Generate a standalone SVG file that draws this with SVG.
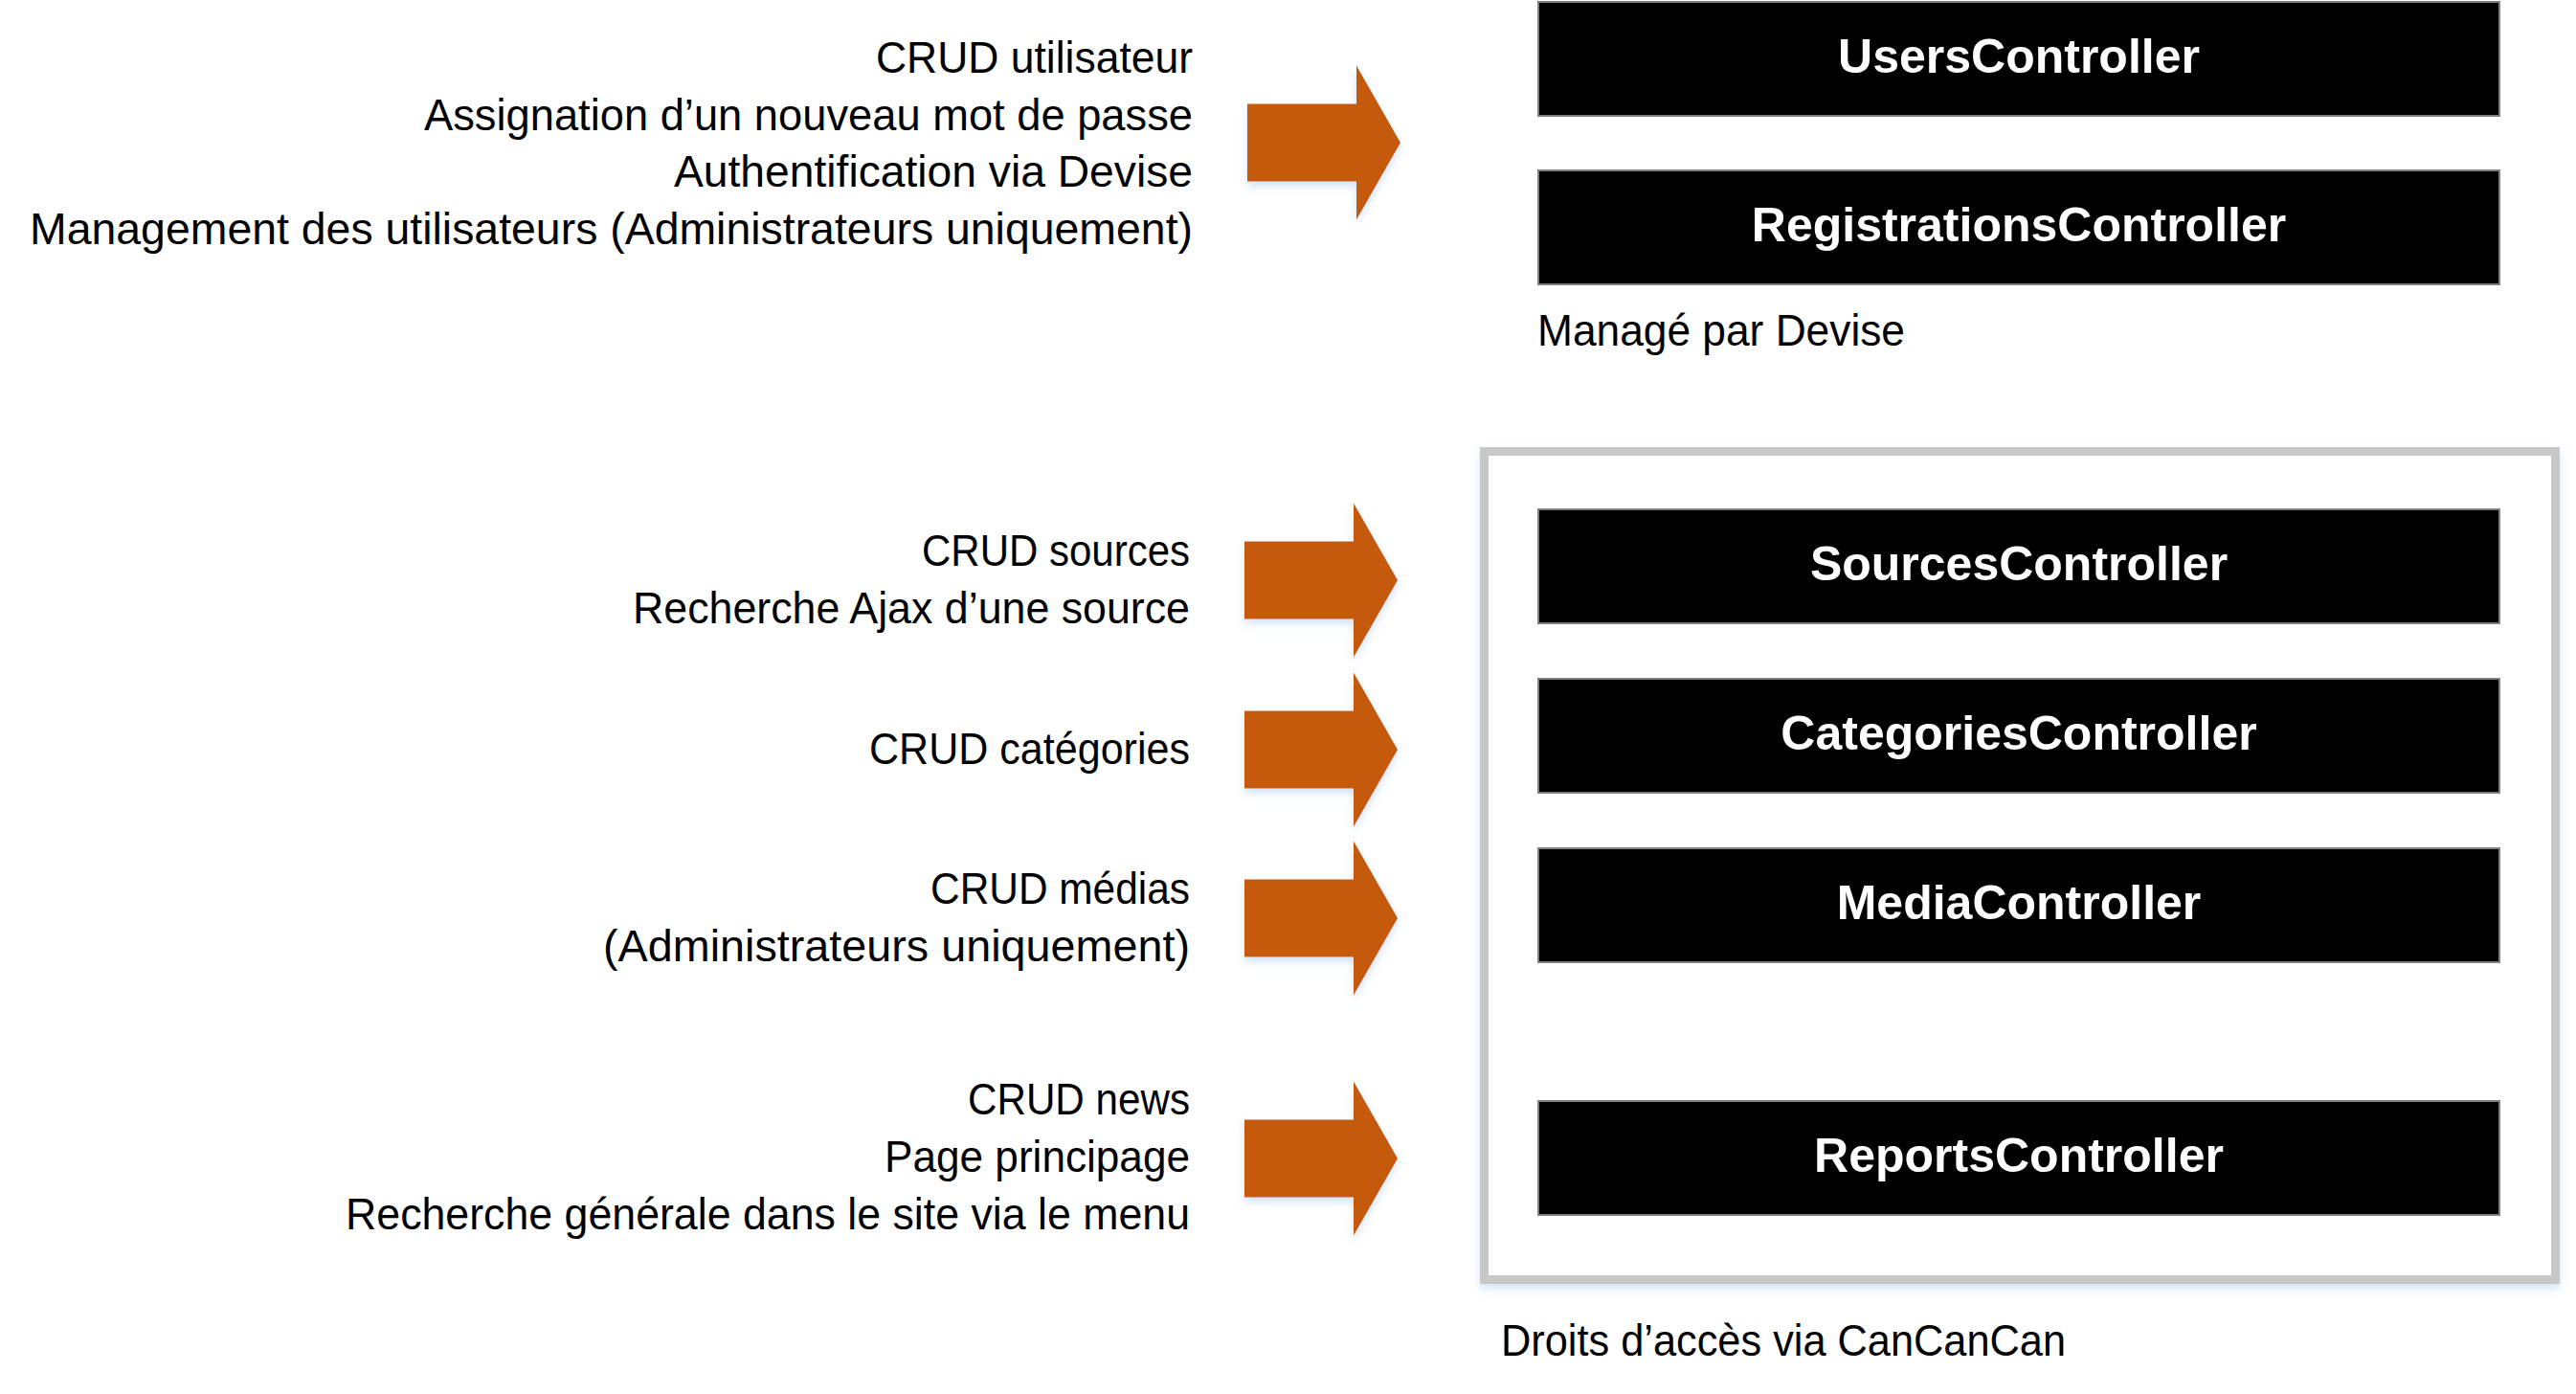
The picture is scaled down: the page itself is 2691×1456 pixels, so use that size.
<svg xmlns="http://www.w3.org/2000/svg" width="2691" height="1456" viewBox="0 0 2691 1456">
<style>
.lbl{font-family:"Liberation Sans",Arial,sans-serif;font-size:46px;fill:#000;}
.r{text-anchor:end;}
.box rect{fill:#000;stroke:#7f7f7f;stroke-width:2;}
.box text{font-family:"Liberation Sans",Arial,sans-serif;font-weight:bold;font-size:50px;fill:#fff;text-anchor:middle;}
.arrow{fill:#C55A11;filter:url(#sh);}
</style>
<defs>
<filter id="sh" x="-20%" y="-20%" width="140%" height="150%">
<feDropShadow dx="0" dy="5" stdDeviation="4" flood-color="#9DC3E6" flood-opacity="0.45"/>
</filter>
<path id="arr" d="M0,-40.5 H114 V-80.5 L160,0 L114,80.5 V40.5 H0 Z"/>
</defs>
<rect width="2691" height="1456" fill="#fff"/>

<g id="frame">
<rect x="1550.5" y="471.5" width="1119" height="865" fill="#fff" stroke="#C7C7C7" stroke-width="9" filter="url(#sh)"/>
</g>

<g id="labels-left">
<text class="lbl r" x="1246" y="76" textLength="331" lengthAdjust="spacingAndGlyphs">CRUD utilisateur</text>
<text class="lbl r" x="1246" y="136" textLength="803" lengthAdjust="spacingAndGlyphs">Assignation d’un nouveau mot de passe</text>
<text class="lbl r" x="1246" y="195" textLength="542" lengthAdjust="spacingAndGlyphs">Authentification via Devise</text>
<text class="lbl r" x="1246" y="255" textLength="1215" lengthAdjust="spacingAndGlyphs">Management des utilisateurs (Administrateurs uniquement)</text>
<text class="lbl r" x="1243" y="591" textLength="280" lengthAdjust="spacingAndGlyphs">CRUD sources</text>
<text class="lbl r" x="1243" y="651" textLength="582" lengthAdjust="spacingAndGlyphs">Recherche Ajax d’une source</text>
<text class="lbl r" x="1243" y="798" textLength="335" lengthAdjust="spacingAndGlyphs">CRUD catégories</text>
<text class="lbl r" x="1243" y="944" textLength="271" lengthAdjust="spacingAndGlyphs">CRUD médias</text>
<text class="lbl r" x="1243" y="1004" textLength="613" lengthAdjust="spacingAndGlyphs">(Administrateurs uniquement)</text>
<text class="lbl r" x="1243" y="1164" textLength="232" lengthAdjust="spacingAndGlyphs">CRUD news</text>
<text class="lbl r" x="1243" y="1224" textLength="319" lengthAdjust="spacingAndGlyphs">Page principage</text>
<text class="lbl r" x="1243" y="1284" textLength="882" lengthAdjust="spacingAndGlyphs">Recherche générale dans le site via le menu</text>
</g>

<g id="connectors">
<use href="#arr" class="arrow" x="1303" y="149"/>
<use href="#arr" class="arrow" x="1300" y="606"/>
<use href="#arr" class="arrow" x="1300" y="783"/>
<use href="#arr" class="arrow" x="1300" y="959"/>
<use href="#arr" class="arrow" x="1300" y="1210"/>
</g>

<g id="UsersController" class="box">
<rect x="1607" y="2" width="1004" height="119"/>
<text x="2109" y="76">UsersController</text>
</g>
<g id="RegistrationsController" class="box">
<rect x="1607" y="178" width="1004" height="119"/>
<text x="2109" y="252">RegistrationsController</text>
</g>
<g id="SourcesController" class="box">
<rect x="1607" y="532" width="1004" height="119"/>
<text x="2109" y="606">SourcesController</text>
</g>
<g id="CategoriesController" class="box">
<rect x="1607" y="709" width="1004" height="119"/>
<text x="2109" y="783">CategoriesController</text>
</g>
<g id="MediaController" class="box">
<rect x="1607" y="886" width="1004" height="119"/>
<text x="2109" y="960">MediaController</text>
</g>
<g id="ReportsController" class="box">
<rect x="1607" y="1150" width="1004" height="119"/>
<text x="2109" y="1224">ReportsController</text>
</g>

<g id="captions">
<text class="lbl" x="1606" y="361" textLength="384" lengthAdjust="spacingAndGlyphs">Managé par Devise</text>
<text class="lbl" x="1568" y="1416" textLength="590" lengthAdjust="spacingAndGlyphs">Droits d’accès via CanCanCan</text>
</g>
</svg>
